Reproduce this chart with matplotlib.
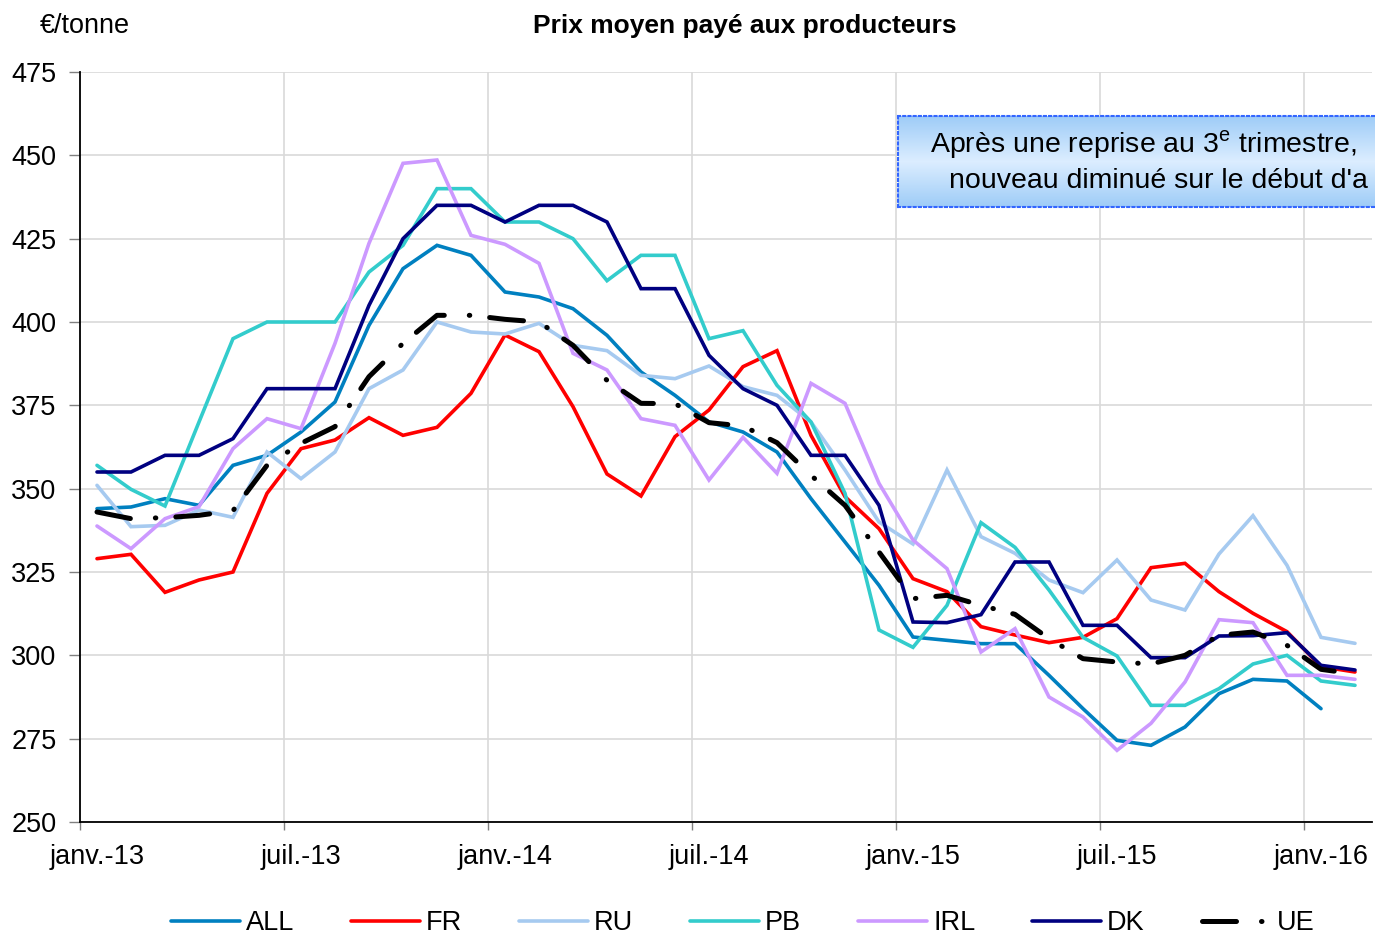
import numpy as np
import matplotlib
matplotlib.use("Agg")
import matplotlib.pyplot as plt

plt.rcParams['font.family'] = ['Liberation Sans', 'DejaVu Sans']
plt.rcParams['mathtext.fontset'] = 'custom'
plt.rcParams['mathtext.rm'] = 'Liberation Sans'

# monthly average producer prices, janv.-13 .. févr.-16 (EUR / tonne)
months = ['janv.-13', 'févr.-13', 'mars-13', 'avr.-13', 'mai-13', 'juin-13',
          'juil.-13', 'août-13', 'sept.-13', 'oct.-13', 'nov.-13', 'déc.-13',
          'janv.-14', 'févr.-14', 'mars-14', 'avr.-14', 'mai-14', 'juin-14',
          'juil.-14', 'août-14', 'sept.-14', 'oct.-14', 'nov.-14', 'déc.-14',
          'janv.-15', 'févr.-15', 'mars-15', 'avr.-15', 'mai-15', 'juin-15',
          'juil.-15', 'août-15', 'sept.-15', 'oct.-15', 'nov.-15', 'déc.-15',
          'janv.-16', 'févr.-16']

ALL = [344, 344.5, 347, 345, 357, 360, 367, 376, 399, 416, 423, 420,
       409, 407.5, 404, 396, 385, 378, 370, 367, 361, 347, 334, 321,
       305.5, 304.5, 303.5, 303.5, 294, 284, 274.5, 273, 278.5, 288.5, 292.8, 292.3,
       284]
FR = [329, 330.3, 318.9, 322.6, 325, 348.6, 362, 364.6, 371.3, 366, 368.4, 378.6,
      396.1, 391.1, 374.6, 354.4, 347.8, 365.6, 373.6, 386.6, 391.4, 366, 347.6, 338,
      323, 319.1, 308.6, 306.1, 303.8, 305.4, 311, 326.3, 327.6, 319.1, 312.6, 307.1,
      296.6, 295]
RU = [351, 338.6, 339, 343.6, 341.4, 361, 353, 361, 380, 385.6, 400, 397,
      396.4, 399.6, 393, 391.4, 384, 383, 386.8, 380.6, 378, 370, 355.6, 340,
      333.4, 355.6, 335.6, 330.6, 322.6, 318.8, 328.6, 316.6, 313.6, 330.4, 341.9, 327,
      305.4, 303.6]
PB = [357, 349.8, 344.8, 370, 395, 400, 400, 400, 415, 423, 440, 440,
      430, 430, 425, 412.4, 420, 420, 395, 397.4, 381, 370, 348.6, 307.6,
      302.4, 315, 339.8, 332.4, 319.6, 305.4, 299.8, 285, 285, 290, 297.4, 300,
      292.3, 291]
IRL = [338.8, 332, 341, 344.6, 362, 371, 368, 393.6, 423.6, 447.6, 448.6, 426,
       423.3, 417.6, 390.6, 385.6, 371, 369, 352.6, 365.4, 354.6, 381.6, 375.6, 351.6,
       334.6, 326, 301, 308, 287.5, 281.5, 271.5, 279.6, 292, 310.7, 309.8, 294,
       294, 292.8]
DK = [355, 355, 360, 360, 365, 380, 380, 380, 405, 425, 435, 435,
      430, 435, 435, 430, 410, 410, 390, 380, 375, 360, 360, 345,
      310, 309.8, 312.2, 328, 328, 309, 309, 299.3, 299.3, 305.8, 305.9, 306.8,
      297, 295.6]
UE = [343, 341, 341.3, 342, 343.4, 357, 363.6, 368.6, 383.6, 393.6, 402, 402,
      400.8, 400, 393, 382.5, 375.6, 375.5, 369.8, 368.8, 363.8, 354, 345, 331,
      317, 318, 315, 312.3, 305, 299, 298, 297.4, 300, 306, 307, 303,
      295.8, 294.4]

series = [('ALL', ALL, '#0080C0'), ('FR', FR, '#FF0000'), ('RU', RU, '#A6CAF0'),
          ('PB', PB, '#33CCCC'), ('IRL', IRL, '#CC99FF'), ('DK', DK, '#000080')]

fig = plt.figure(figsize=(13.75, 9.38), dpi=100)
ax = fig.add_axes([80/1375, 1-822/938, 1292/1375, 750/938])

x = np.arange(len(months))
for name, vals, col in series:
    ax.plot(x[:len(vals)], vals, color=col, lw=2.6, label=name,
            solid_joinstyle='miter', solid_capstyle='round', zorder=3)
ue_line, = ax.plot(x, UE, color='black', lw=3.6, label='UE', zorder=4,
                   dash_capstyle='round')
ue_line.set_dashes([6.8, 5.0, 0.1, 4.0])

ax.set_xlim(-0.5, len(months) - 0.5)
ax.set_ylim(250, 475)
ax.set_yticks(np.arange(250, 476, 25))

# labels at category centres, tick marks and grid between categories
ax.set_xticks(x[::6])
ax.set_xticklabels(months[::6])
ax.set_xticks(np.arange(-0.5, len(months), 6), minor=True)
ax.tick_params(axis='x', which='major', length=0, pad=16, labelsize=19.5)
ax.tick_params(axis='x', which='minor', length=6, width=1, color='#808080')
ax.tick_params(axis='y', length=8, width=1, color='#808080', pad=9, labelsize=19.5)
ax.grid(axis='y', color='#D9D9D9', lw=1.2)
ax.grid(axis='x', which='minor', color='#D9D9D9', lw=1.2)
ax.set_axisbelow(True)
for s in ['top', 'right']:
    ax.spines[s].set_visible(False)
ax.spines['left'].set_linewidth(1.3)
ax.spines['bottom'].set_linewidth(1.3)

fig.text(40/1375, 1-26/938, '€/tonne', fontsize=19.5, va='center', ha='left')
fig.text(745/1375, 1-26/938, 'Prix moyen payé aux producteurs', fontsize=19,
         fontweight='bold', va='center', ha='center')

leg = fig.legend(loc='center', bbox_to_anchor=(0.54, 1-923/938), ncol=7,
                 frameon=False, fontsize=19.5, handlelength=2.55,
                 handletextpad=0.22, columnspacing=2.1, borderpad=0.2)

# annotation box (runs off the right edge of the figure, as in the original)
bx = fig.add_axes([898/1375, 1-207/938, 600/1375, 91/938])
grad = np.concatenate([np.linspace(0, 1, 50), np.linspace(1, 0, 50)])
top = np.array([0.62, 0.80, 0.97])
mid = np.array([0.86, 0.93, 1.0])
img = top[None, :] + grad[:, None] * (mid - top)[None, :]
bx.imshow(img[:, None, :], aspect='auto', extent=[0, 1, 0, 1])
bx.set_xlim(0, 1)
bx.set_ylim(0, 1)
bx.set_xticks([])
bx.set_yticks([])
for s in bx.spines.values():
    s.set_edgecolor('#3366FF')
    s.set_linestyle((0, (1, 1.5)))
    s.set_linewidth(1.5)
fig.text(930/1375, 1-145/938, r'Après une reprise au 3$^{\mathrm{e}}$ trimestre,',
         fontsize=20.5, va='center', ha='left')
fig.text(949/1375, 1-181/938, "nouveau diminué sur le début d'a",
         fontsize=20.5, va='center', ha='left')

fig.savefig('out.png', dpi=100)
